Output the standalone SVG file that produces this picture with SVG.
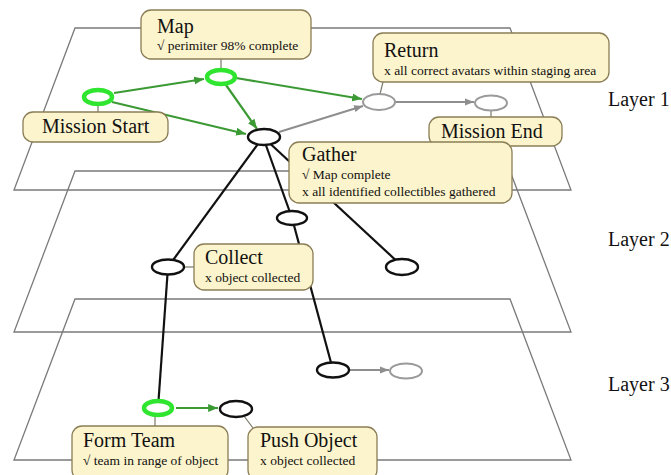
<svg xmlns="http://www.w3.org/2000/svg" width="671" height="475" viewBox="0 0 671 475">
<defs>
<style>
.layer{fill:none;stroke:#7a7a7a;stroke-width:1.3}
.lbl{fill:#111}
.big{font-size:20px}
.small{font-size:13.5px}
.box{fill:#fcf4cc;stroke:#8a7d55;stroke-width:1.3}
.lead{stroke:#7a7a6a;stroke-width:1.2;fill:none}
.ng{fill:#fff;stroke:#2fe52f;stroke-width:4.5}
.nb{fill:#fff;stroke:#111;stroke-width:2.4}
.ny{fill:#fff;stroke:#9a9a9a;stroke-width:2}
.eg{stroke:#3c9a35;stroke-width:2.2;fill:none}
.ey{stroke:#8e8e8e;stroke-width:2;fill:none}
.eb{stroke:#111;stroke-width:2.2;fill:none}
</style>
<marker id="ag" viewBox="0 0 10 10" refX="10" refY="5" markerWidth="4.5" markerHeight="4.5" markerUnits="strokeWidth" orient="auto"><path d="M0,1 L10,5 L0,9 z" fill="#3c9a35"/></marker>
<marker id="ay" viewBox="0 0 10 10" refX="10" refY="5" markerWidth="4.5" markerHeight="4.5" markerUnits="strokeWidth" orient="auto"><path d="M0,1 L10,5 L0,9 z" fill="#8e8e8e"/></marker>
</defs>
<rect width="671" height="475" fill="#fff"/>
<g font-family="Liberation Serif, Times New Roman, DejaVu Serif, serif">
<g id="layers">
<polygon class="layer" points="75,28 510,28 571,190 14,190"/>
<polygon class="layer" points="75,171 510,171 571,332 14,332"/>
<polygon class="layer" points="75,299 510,299 571,460 14,460"/>
<text class="lbl big" x="608" y="106">Layer 1</text>
<text class="lbl big" x="608" y="246">Layer 2</text>
<text class="lbl big" x="608" y="391">Layer 3</text>
</g>
<g id="connectors">
<line class="eb" x1="263" y1="137" x2="168" y2="267"/>
<line class="eb" x1="168" y1="267" x2="158" y2="408"/>
<line class="eb" x1="263" y1="137" x2="292" y2="218"/>
<line class="eb" x1="292" y1="218" x2="333" y2="370"/>
<line class="eb" x1="263" y1="137" x2="402" y2="266"/>
<line class="eg" x1="114" y1="93" x2="204" y2="79" marker-end="url(#ag)"/>
<line class="eg" x1="112" y1="102" x2="246" y2="134" marker-end="url(#ag)"/>
<line class="eg" x1="226" y1="85" x2="257" y2="129" marker-end="url(#ag)"/>
<line class="eg" x1="236" y1="78" x2="362" y2="99" marker-end="url(#ag)"/>
<line class="ey" x1="279" y1="132" x2="363" y2="106" marker-end="url(#ay)"/>
<line class="ey" x1="395" y1="102" x2="474" y2="102" marker-end="url(#ay)"/>
<line class="eg" x1="176" y1="408" x2="218" y2="408" marker-end="url(#ag)"/>
<line class="ey" x1="350" y1="370" x2="389" y2="370" marker-end="url(#ay)"/>
<line class="lead" x1="221" y1="59" x2="221" y2="70"/>
<line class="lead" x1="98" y1="104" x2="98" y2="112"/>
<line class="lead" x1="383" y1="82" x2="380" y2="94"/>
<line class="lead" x1="491" y1="110" x2="491" y2="117"/>
<line class="lead" x1="184" y1="267" x2="194" y2="267"/>
<line class="lead" x1="155" y1="415" x2="155" y2="426"/>
<line class="lead" x1="244" y1="416" x2="253" y2="428"/>
</g>
<g id="n-mission-start"><ellipse class="ng" cx="98" cy="97" rx="14" ry="7"/></g>
<g id="n-map"><ellipse class="ng" cx="221" cy="77" rx="14" ry="7"/></g>
<g id="n-gather"><ellipse class="nb" cx="264" cy="137" rx="16" ry="8"/></g>
<g id="n-return"><ellipse class="ny" cx="379" cy="102" rx="16" ry="8"/></g>
<g id="n-mission-end"><ellipse class="ny" cx="491" cy="103" rx="16" ry="7.5"/></g>
<g id="n-l2a"><ellipse class="nb" cx="292" cy="218" rx="15" ry="7"/></g>
<g id="n-collect"><ellipse class="nb" cx="168" cy="267" rx="16" ry="7.5"/></g>
<g id="n-l2b"><ellipse class="nb" cx="402" cy="267" rx="16" ry="8"/></g>
<g id="n-l3a"><ellipse class="nb" cx="333" cy="370" rx="16" ry="7.5"/></g>
<g id="n-l3b"><ellipse class="ny" cx="406" cy="371" rx="16" ry="7.5"/></g>
<g id="n-form-team"><ellipse class="ng" cx="158" cy="408" rx="14" ry="7"/></g>
<g id="n-push-object"><ellipse class="nb" cx="236" cy="409" rx="16" ry="8"/></g>
<g id="b-map">
<rect class="box" x="141" y="10" width="170" height="49" rx="10"/>
<text class="lbl big" x="157" y="33">Map</text>
<text class="lbl small" x="157" y="50">√ perimiter 98% complete</text>
</g>
<g id="b-mission-start">
<rect class="box" x="23" y="112" width="145" height="30" rx="10"/>
<text class="lbl big" x="42" y="133">Mission Start</text>
</g>
<g id="b-return">
<rect class="box" x="373" y="33" width="236" height="49" rx="10"/>
<text class="lbl big" x="384" y="57">Return</text>
<text class="lbl small" x="384" y="75">x all correct avatars within staging area</text>
</g>
<g id="b-mission-end">
<rect class="box" x="429" y="117" width="133" height="29" rx="10"/>
<text class="lbl big" x="441" y="138">Mission End</text>
</g>
<g id="b-gather">
<rect class="box" x="289" y="142" width="223" height="61" rx="10"/>
<text class="lbl big" x="302" y="161">Gather</text>
<text class="lbl small" x="302" y="179">√ Map complete</text>
<text class="lbl small" x="302" y="196">x all identified collectibles gathered</text>
</g>
<g id="b-collect">
<rect class="box" x="194" y="244" width="119" height="46" rx="10"/>
<text class="lbl big" x="205" y="264">Collect</text>
<text class="lbl small" x="205" y="282">x object collected</text>
</g>
<g id="b-form-team">
<rect class="box" x="72" y="426" width="156" height="54" rx="10"/>
<text class="lbl big" x="83" y="447">Form Team</text>
<text class="lbl small" x="83" y="465">√ team in range of object</text>
</g>
<g id="b-push-object">
<rect class="box" x="248" y="427" width="129" height="53" rx="10"/>
<text class="lbl big" x="260" y="447">Push Object</text>
<text class="lbl small" x="260" y="465">x object collected</text>
</g>
</g>
</svg>
